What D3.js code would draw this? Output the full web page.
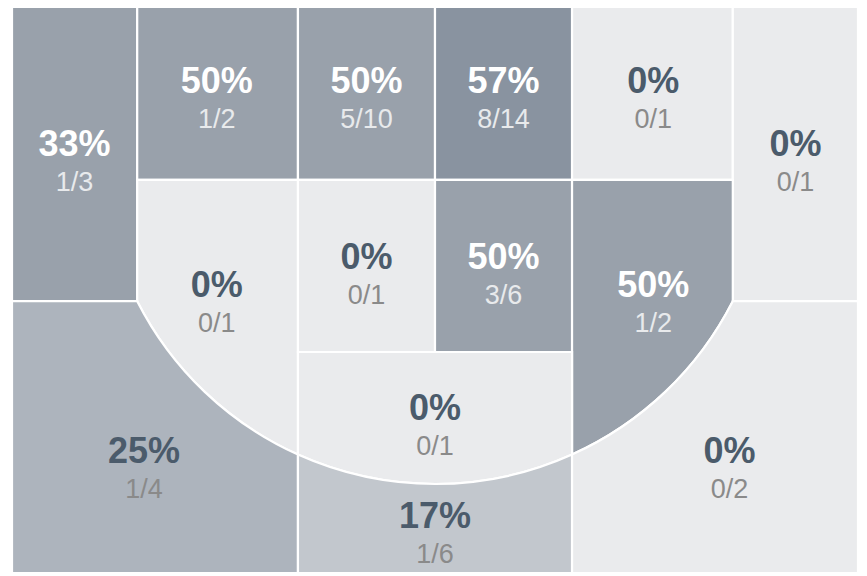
<!DOCTYPE html>
<html>
<head>
<meta charset="utf-8">
<script src="https://cdn.jsdelivr.net/npm/d3@7"></script>
<style>
  html, body { margin: 0; padding: 0; background: #ffffff; }
  svg { display: block; }
</style>
</head>
<body>
<div id="chart"></div>
<script>
// ---- DATA ----
const zoneIds = ['leftCorner3', 'leftWingHigh', 'paintHighLeft', 'paintHighRight', 'rightWingHigh', 'rightCorner3',
                 'leftWingLow', 'paintLowLeft', 'paintLowRight', 'rightWingLow', 'topKey', 'left3', 'top3', 'right3'];
const made     = [1, 1, 5, 8, 0, 0, 0, 0, 3, 1, 0, 1, 1, 0];
const attempts = [3, 2, 10, 14, 1, 1, 1, 1, 6, 2, 1, 4, 6, 2];
const pointValue = [3, 2, 2, 2, 2, 3, 2, 2, 2, 2, 2, 3, 3, 3];

// court geometry (feet) : column edges, row edges, three-point arc
const courtX = [-25, -17.6, -8.1, 0, 8.1, 17.6, 25];
const courtY = [0, 10.22, 17.38, 20.39, 33.45];
const arcCenterY = 8.45;
const arcRadius = 19.74;

// label anchor per zone (feet): x centre, baseline of the percentage
const labelX = [-21.3, -12.9, -4.05, 4.05, 12.9, 21.3, -12.9, -4.05, 4.05, 12.9, 0, -17.2, 0, 17.4];
const labelY = [8.81, 5.08, 5.08, 5.08, 5.08, 8.81, 17.14, 15.5, 15.5, 17.14, 24.41, 26.95, 30.79, 26.95];

// ---- CHART ----
const W = 867, H = 576;
const svg = d3.select('#chart').append('svg').attr('width', W).attr('height', H);

const x = d3.scaleLinear().domain([-25, 25]).range([12, 858]);
const y = d3.scaleLinear().domain([0, 33.45]).range([7, 573]);

const color = d3.scaleLinear()
  .domain([0, 25, 37.5, 50, 57.1])
  .range(['#eaebed', '#c2c7cd', '#adb4bd', '#99a1ab', '#8993a0'])
  .clamp(true);

const [X0, X1, X2, X3, X4, X5, X6] = courtX;
const [Y0, Y1, Y2, Y3, Y4] = courtY;
const cxp = x(0), cyp = y(arcCenterY), rp = x(arcRadius) - x(0);
const arcY = xf => arcCenterY + Math.sqrt(arcRadius * arcRadius - xf * xf);
const ang = xf => Math.atan2(arcY(xf) - arcCenterY, xf);

function rect(xa, ya, xb, yb) {
  const p = d3.path();
  p.moveTo(x(xa), y(ya)); p.lineTo(x(xb), y(ya)); p.lineTo(x(xb), y(yb)); p.lineTo(x(xa), y(yb)); p.closePath();
  return p.toString();
}

function shape(i) {
  const p = d3.path();
  switch (i) {
    case 0: return rect(X0, Y0, X1, Y2);
    case 1: return rect(X1, Y0, X2, Y1);
    case 2: return rect(X2, Y0, X3, Y1);
    case 3: return rect(X3, Y0, X4, Y1);
    case 4: return rect(X4, Y0, X5, Y1);
    case 5: return rect(X5, Y0, X6, Y2);
    case 6:
      p.moveTo(x(X1), y(Y1)); p.lineTo(x(X2), y(Y1)); p.lineTo(x(X2), y(arcY(X2)));
      p.arc(cxp, cyp, rp, ang(X2), ang(X1), false); p.closePath();
      return p.toString();
    case 7: return rect(X2, Y1, X3, Y3);
    case 8: return rect(X3, Y1, X4, Y3);
    case 9:
      p.moveTo(x(X4), y(Y1)); p.lineTo(x(X5), y(Y1)); p.lineTo(x(X5), y(arcY(X5)));
      p.arc(cxp, cyp, rp, ang(X5), ang(X4), false); p.closePath();
      return p.toString();
    case 10:
      p.moveTo(x(X2), y(Y3)); p.lineTo(x(X4), y(Y3)); p.lineTo(x(X4), y(arcY(X4)));
      p.arc(cxp, cyp, rp, ang(X4), ang(X2), false); p.closePath();
      return p.toString();
    case 11:
      p.moveTo(x(X0), y(Y2)); p.lineTo(x(X1), y(Y2));
      p.arc(cxp, cyp, rp, ang(X1), ang(X2), true);
      p.lineTo(x(X2), y(Y4)); p.lineTo(x(X0), y(Y4)); p.closePath();
      return p.toString();
    case 12:
      p.moveTo(x(X2), y(arcY(X2)));
      p.arc(cxp, cyp, rp, ang(X2), ang(X4), true);
      p.lineTo(x(X4), y(Y4)); p.lineTo(x(X2), y(Y4)); p.closePath();
      return p.toString();
    case 13:
      p.moveTo(x(X5), y(Y2)); p.lineTo(x(X6), y(Y2)); p.lineTo(x(X6), y(Y4)); p.lineTo(x(X4), y(Y4));
      p.lineTo(x(X4), y(arcY(X4)));
      p.arc(cxp, cyp, rp, ang(X4), ang(X5), true); p.closePath();
      return p.toString();
  }
}

const zones = zoneIds.map((id, i) => {
  const pct = made[i] / attempts[i];
  const efg = pct * 100 * (pointValue[i] === 3 ? 1.5 : 1);
  return { id, i, made: made[i], att: attempts[i], pct, efg, dark: efg >= 45 };
});

const g = svg.append('g');

g.selectAll('path.zone')
  .data(zones)
  .join('path')
  .attr('class', 'zone')
  .attr('d', d => shape(d.i))
  .attr('fill', d => color(d.efg))
  .attr('stroke', '#ffffff')
  .attr('stroke-width', 2.2)
  .attr('stroke-linejoin', 'miter');

const labels = g.selectAll('g.label')
  .data(zones)
  .join('g')
  .attr('class', 'label')
  .attr('transform', d => `translate(${x(labelX[d.i])},${y(labelY[d.i])})`)
  .attr('text-anchor', 'middle')
  .style('font-family', '"Liberation Sans", Arial, Helvetica, sans-serif');

labels.append('text')
  .attr('y', 0)
  .style('font-size', '36px')
  .style('font-weight', 'bold')
  .attr('fill', d => d.dark ? '#ffffff' : '#4b5b6b')
  .text(d => Math.round(d.pct * 100) + '%');

labels.append('text')
  .attr('y', 35)
  .style('font-size', '27px')
  .attr('fill', d => d.dark ? '#e8eaec' : '#8a8a8a')
  .text(d => d.made + '/' + d.att);
</script>
</body>
</html>
